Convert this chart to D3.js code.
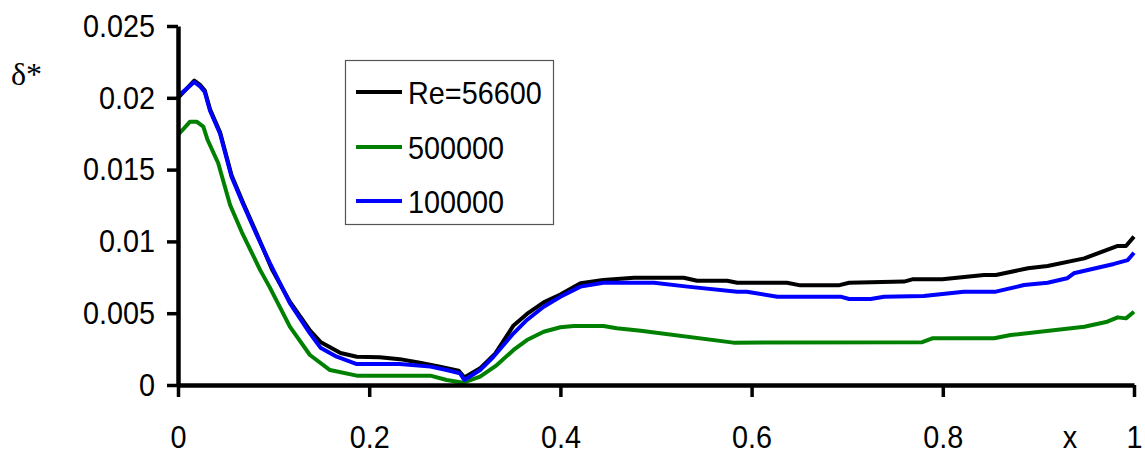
<!DOCTYPE html>
<html>
<head>
<meta charset="utf-8">
<script src="https://cdn.jsdelivr.net/npm/d3@7"></script>
<style>
  html, body { margin: 0; padding: 0; background: #fff; }
  svg { display: block; }
  text { font-family: "Liberation Sans", Arial, sans-serif; fill: #000; }
</style>
</head>
<body>
<svg id="chart" width="1145" height="457"></svg>
<script>
// Displacement thickness along the surface for three Reynolds numbers
const seriesNames = ["Re=56600", "500000", "100000"];
const seriesColors = ["#000000", "#008000", "#0000ff"];

const re56600X = [0, 0.017, 0.023, 0.028, 0.0335, 0.044, 0.056, 0.068, 0.082, 0.098, 0.117, 0.138, 0.149, 0.17, 0.187, 0.211, 0.232, 0.253, 0.274, 0.2935, 0.2995, 0.316, 0.332, 0.351, 0.365, 0.3825, 0.40, 0.421, 0.445, 0.477, 0.529, 0.543, 0.5745, 0.585, 0.637, 0.651, 0.691, 0.702, 0.7595, 0.768, 0.7995, 0.843, 0.8555, 0.889, 0.9096, 0.948, 0.983, 0.9916, 1.0];
const re56600Y = [0.0200, 0.0212, 0.0209, 0.0205, 0.0192, 0.0176, 0.0146, 0.0127, 0.0106, 0.0081, 0.0058, 0.0038, 0.0030, 0.00223, 0.00197, 0.00193, 0.0018, 0.00155, 0.00128, 0.0010, 0.00053, 0.00116, 0.0022, 0.00415, 0.00495, 0.00575, 0.0063, 0.00708, 0.00731, 0.00747, 0.00747, 0.00726, 0.00726, 0.00712, 0.00712, 0.00694, 0.00694, 0.00712, 0.0072, 0.00736, 0.00736, 0.00766, 0.00766, 0.00813, 0.00829, 0.00882, 0.00968, 0.00968, 0.01033];

const re500000X = [0, 0.0126, 0.0195, 0.0265, 0.031, 0.042, 0.0545, 0.0667, 0.086, 0.096, 0.117, 0.138, 0.159, 0.187, 0.264, 0.281, 0.2985, 0.316, 0.3335, 0.351, 0.365, 0.3825, 0.40, 0.414, 0.445, 0.459, 0.484, 0.581, 0.7785, 0.789, 0.8537, 0.871, 0.948, 0.972, 0.983, 0.9916, 1.0];
const re500000Y = [0.01741, 0.01834, 0.01834, 0.01799, 0.01706, 0.01546, 0.01254, 0.01065, 0.0080, 0.0068, 0.00406, 0.00209, 0.00104, 0.00065, 0.00065, 0.00035, 0.00016, 0.00058, 0.00139, 0.00244, 0.00313, 0.00371, 0.00402, 0.00411, 0.00411, 0.00395, 0.00378, 0.00295, 0.00298, 0.00325, 0.00325, 0.00348, 0.00406, 0.00441, 0.00471, 0.00464, 0.0051];

const re100000X = [0, 0.017, 0.023, 0.028, 0.0335, 0.044, 0.056, 0.068, 0.082, 0.096, 0.117, 0.138, 0.149, 0.166, 0.187, 0.232, 0.264, 0.281, 0.295, 0.2995, 0.316, 0.330, 0.351, 0.365, 0.3825, 0.40, 0.421, 0.445, 0.498, 0.533, 0.585, 0.595, 0.627, 0.693, 0.702, 0.7246, 0.7385, 0.780, 0.822, 0.8555, 0.885, 0.9096, 0.930, 0.937, 0.979, 0.9935, 1.0];
const re100000Y = [0.0201, 0.0211, 0.0208, 0.0204, 0.0191, 0.0175, 0.0145, 0.0126, 0.0105, 0.0085, 0.0057, 0.0036, 0.0026, 0.00197, 0.00146, 0.00146, 0.00128, 0.00104, 0.00081, 0.00035, 0.00104, 0.00197, 0.0036, 0.00453, 0.00545, 0.00615, 0.00685, 0.00712, 0.00712, 0.00685, 0.0065, 0.0065, 0.00615, 0.00615, 0.00599, 0.00599, 0.00615, 0.0062, 0.0065, 0.0065, 0.00696, 0.00712, 0.00743, 0.00778, 0.00843, 0.0087, 0.00921];

const xTicks = [0, 0.2, 0.4, 0.6, 0.8, 1];
const xTickLabels = ["0", "0.2", "0.4", "0.6", "0.8", "1"];
const yTicks = [0, 0.005, 0.01, 0.015, 0.02, 0.025];
const yTickLabels = ["0", "0.005", "0.01", "0.015", "0.02", "0.025"];

const seriesX = [re56600X, re500000X, re100000X];
const seriesY = [re56600Y, re500000Y, re100000Y];

const svg = d3.select("#chart");
const squeeze = 0.9; // narrow glyph width used throughout the labels

const x = d3.scaleLinear().domain([0, 1]).range([178, 1134]);
const y = d3.scaleLinear().domain([0, 0.025]).range([385, 26]);

// Curves
const line = d3.line().x(d => x(d[0])).y(d => y(d[1]));
const curves = svg.append("g");
seriesNames.forEach((name, i) => {
  const pts = seriesX[i].map((v, k) => [v, seriesY[i][k]]);
  curves.append("path")
    .datum(pts)
    .attr("fill", "none")
    .attr("stroke", seriesColors[i])
    .attr("stroke-width", 4)
    .attr("stroke-linejoin", "round")
    .attr("d", line);
});

// Axes
const xAxis = d3.axisBottom(x)
  .tickValues(xTicks)
  .tickFormat((d, i) => xTickLabels[i])
  .tickSizeInner(12).tickSizeOuter(0).tickPadding(28);
const yAxis = d3.axisLeft(y)
  .tickValues(yTicks)
  .tickFormat((d, i) => yTickLabels[i])
  .tickSizeInner(11).tickSizeOuter(0).tickPadding(12);

const gx = svg.append("g").attr("transform", `translate(0,${y(0)})`).call(xAxis);
const gy = svg.append("g").attr("transform", `translate(${x(0)},0)`).call(yAxis);

[gx, gy].forEach(g => {
  g.select(".domain").attr("stroke", "#000").attr("stroke-width", 4.5);
  g.selectAll(".tick line").attr("stroke", "#000").attr("stroke-width", 3.5);
  g.selectAll(".tick text")
    .attr("fill", "#000")
    .style("font-family", "'Liberation Sans', Arial, sans-serif")
    .style("font-size", "32px");
});
gx.selectAll(".tick text").attr("transform", `scale(${squeeze},1)`);
gy.selectAll(".tick text")
  .attr("x", -23 / squeeze)
  .attr("transform", `scale(${squeeze},1)`);

// Axis titles
svg.append("text")
  .attr("transform", `translate(1070,448) scale(${squeeze},1)`)
  .attr("text-anchor", "middle")
  .style("font-size", "32px")
  .text("x");

svg.append("text")
  .attr("x", 11).attr("y", 85)
  .style("font-family", "'Liberation Serif', 'Times New Roman', serif")
  .style("font-size", "32px")
  .text("δ*");

// Legend
const legend = svg.append("g");
legend.append("rect")
  .attr("x", 345.5).attr("y", 60.5)
  .attr("width", 208).attr("height", 164)
  .attr("fill", "#fff")
  .attr("stroke", "#555")
  .attr("stroke-width", 1.2);

const legendRows = [92, 147, 201];
seriesNames.forEach((name, i) => {
  legend.append("line")
    .attr("x1", 356).attr("x2", 402)
    .attr("y1", legendRows[i]).attr("y2", legendRows[i])
    .attr("stroke", seriesColors[i])
    .attr("stroke-width", 4);
  legend.append("text")
    .attr("transform", `translate(408,${legendRows[i] + 11.5}) scale(${squeeze},1)`)
    .style("font-size", "32px")
    .text(name);
});
</script>
</body>
</html>
